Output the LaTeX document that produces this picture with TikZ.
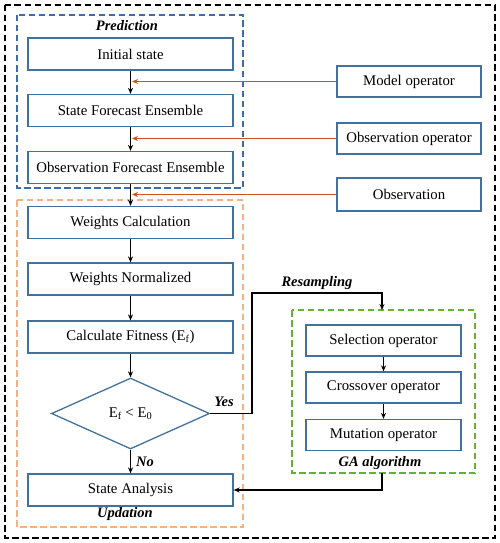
\documentclass[tikz,border=0pt]{standalone}
\usepackage{fontspec}
\setmainfont{Liberation Serif}
\usetikzlibrary{shapes.geometric,arrows.meta}
\definecolor{boxblue}{HTML}{41719C}
\definecolor{dashblue}{HTML}{3C6EA5}
\definecolor{lineorange}{HTML}{C8561A}
\definecolor{dashorange}{HTML}{F4B183}
\definecolor{dashgreen}{HTML}{66B032}
\tikzset{
  stepbox/.style={draw=boxblue, line width=1.3pt, fill=white, minimum width=205pt, minimum height=32pt, inner sep=0pt, font=\fontsize{14.8}{17}\selectfont},
  opbox/.style={stepbox, minimum width=144pt, minimum height=31pt},
  gabox/.style={stepbox, minimum width=155pt, minimum height=31pt},
  grp/.style={line width=1.6pt, dash pattern=on 6.5pt off 3.5pt},
  lbl/.style={font=\fontsize{14.5}{17}\selectfont\bfseries\itshape},
  flow/.style={line width=1.4pt, -{Stealth[length=6pt,width=5pt]}},
  oflow/.style={draw=lineorange, line width=1.4pt, -{Stealth[length=6pt,width=5pt]}},
}
\begin{document}
\begin{tikzpicture}[x=1pt,y=-1pt]
\useasboundingbox (0,0) rectangle (500,543);
% group frames
\draw[grp, black] (5,5) rectangle (495,538);
\draw[grp, dashblue] (17,15) rectangle (243,188);
\draw[grp, dashorange] (17,200) rectangle (243,527);
\draw[grp, dashgreen] (292,310) rectangle (475,473);
% labels
\node[lbl] (lpred) at (127,26) {Prediction};
\node[lbl] (lupd) at (125,514) {Updation};
\node[lbl] (lga) at (380,463) {GA algorithm};
\node[lbl] (lres) at (317,283) {Resampling};
\node[lbl] (lyes) at (224,402) {Yes};
\node[lbl] (lno) at (145,462) {No};
% main steps
\node[stepbox] (init) at (130.5,54) {Initial state};
\node[stepbox] (sfe) at (130.5,110.5) {State Forecast Ensemble};
\node[stepbox] (ofe) at (130.5,167.5) {Observation Forecast Ensemble};
\node[stepbox] (wc) at (130.5,222.5) {Weights Calculation};
\node[stepbox] (wn) at (130.5,279) {Weights Normalized};
\node[stepbox] (cf) at (130.5,337) {Calculate Fitness (E\textsubscript{f})};
\node[draw=boxblue, line width=1.3pt, shape=diamond, shape aspect=2.2, minimum width=158pt, minimum height=71pt, inner sep=0pt, font=\fontsize{14.8}{17}\selectfont] (dec) at (130.5,413.5) {E\textsubscript{f} < E\textsubscript{0}};
\node[stepbox] (sa) at (130.5,490) {State Analysis};
% operators
\node[opbox] (mo) at (409,81.5) {Model operator};
\node[opbox] (oo) at (409,138.5) {Observation operator};
\node[opbox, minimum height=33pt] (ob) at (409,194.5) {Observation};
% GA
\node[gabox] (sel) at (383.5,340.5) {Selection operator};
\node[gabox] (cro) at (383.5,387.5) {Crossover operator};
\node[gabox] (mut) at (383.5,435) {Mutation operator};
% coordinates
\coordinate (r1) at (252,293);
\coordinate (gatop) at (382,310);
\coordinate (gabot) at (382,473);
% flows
\draw[flow] (init) -- (sfe);
\draw[flow] (sfe) -- (ofe);
\draw[flow] (ofe) -- (wc);
\draw[flow] (wc) -- (wn);
\draw[flow] (wn) -- (cf);
\draw[flow] (cf) -- (dec);
\draw[flow] (dec) -- (sa);
\draw[oflow] (mo.west) -- ([xshift=1.5pt]init.south |- mo.west);
\draw[oflow] (oo.west) -- ([xshift=1.5pt]sfe.south |- oo.west);
\draw[oflow] (ob.west) -- ([xshift=1.5pt]ofe.south |- ob.west);
\draw[flow] (dec.east) -| (r1) -| (gatop);
\draw[flow] (sel) -- (cro);
\draw[flow] (cro) -- (mut);
\draw[flow] (gabot) |- (sa.east);
\end{tikzpicture}
\end{document}
